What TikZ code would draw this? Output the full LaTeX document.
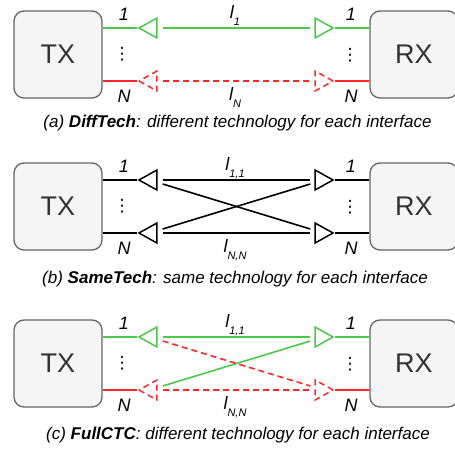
\documentclass[tikz,border=0pt]{standalone}
\usepackage{fontspec}
\setmainfont{Liberation Sans}
\newfontfamily\dotsfont{DejaVu Sans}
\usetikzlibrary{calc, positioning, shapes.geometric}
\definecolor{boxgray}{HTML}{F5F5F5}
\definecolor{edgegray}{HTML}{666666}
\definecolor{textgray}{HTML}{333333}
\definecolor{techgreen}{RGB}{76,200,76}
\definecolor{techred}{RGB}{255,40,40}
\newcommand{\lsub}[1]{\raisebox{-7pt}{\fontsize{11}{11}\selectfont #1}}

\begin{document}
\begin{tikzpicture}[x=1pt, y=-1pt,
    device/.style={draw=edgegray, fill=boxgray, line width=1.3pt, rounded corners=10pt,
        minimum width=88pt, minimum height=87pt, text=textgray, font=\fontsize{27}{27}\selectfont},
    ltri/.style={draw, fill=white, line width=1.5pt, isosceles triangle, isosceles triangle stretches,
        shape border rotate=180, minimum width=20pt, minimum height=18pt, inner sep=0pt, anchor=apex},
    rtri/.style={ltri, shape border rotate=0},
    port/.style={font=\fontsize{18}{18}\selectfont\itshape, anchor=base, inner sep=0pt},
    vdots/.style={font=\dotsfont\fontsize{17}{17}\selectfont, inner sep=0pt},
    wire/.style={line width=1.6pt},
    redash/.style={dash pattern=on 6pt off 4pt},
    caption/.style={font=\fontsize{17}{19}\selectfont\itshape, inner sep=0pt}]
    \useasboundingbox (0,0) rectangle (455,456);

    % (a) DiffTech
    \node[device] (txa) at (58,54.5) {TX};
    \node[device] (rxa) at (414,54.5) {RX};
    \node[ltri, draw=techgreen] (la1) at (137,28) {};
    \node[ltri, draw=techred, redash] (laN) at (137,81) {};
    \node[rtri, draw=techgreen] (ra1) at (335,28) {};
    \node[rtri, draw=techred, redash] (raN) at (335,81) {};
    \draw[wire, techgreen] (txa.east |- la1.apex) -- (la1.apex);
    \draw[wire, techgreen] (ra1.apex) -- (rxa.west |- ra1.apex);
    \draw[wire, techgreen, shorten <=5pt, shorten >=4pt] (la1.lower side) -- (ra1.lower side);
    \draw[wire, techred] (txa.east |- laN.apex) -- (laN.apex);
    \draw[wire, techred] (raN.apex) -- (rxa.west |- raN.apex);
    \draw[wire, techred, redash, shorten <=5pt, shorten >=4pt] (laN.lower side) -- (raN.lower side);
    \node[port] (pa1) at (124,20) {1};
    \node[port] (paN) at (124,102.7) {N};
    \node[port] (qa1) at (351,20) {1};
    \node[port] (qaN) at (351,102.7) {N};
    \node[vdots] (da) at (122,54.5) {⋮};
    \node[vdots] (ea) at (350,55) {⋮};
    \node[port] (na1) at (235,18) {l\lsub{1}};
    \node[port] (naN) at (235,100) {l\lsub{N}};
    \node[caption] (capa) at (237.5,123.5) {(a) \textbf{DiffTech}: different technology for each interface};

    % (b) SameTech
    \node[device] (txb) at (58,206.5) {TX};
    \node[device] (rxb) at (414,206.5) {RX};
    \node[ltri] (lb1) at (137,180) {};
    \node[ltri] (lbN) at (137,233) {};
    \node[rtri] (rb1) at (335,180) {};
    \node[rtri] (rbN) at (335,233) {};
    \draw[wire] (txb.east |- lb1.apex) -- (lb1.apex);
    \draw[wire] (txb.east |- lbN.apex) -- (lbN.apex);
    \draw[wire] (rb1.apex) -- (rxb.west |- rb1.apex);
    \draw[wire] (rbN.apex) -- (rxb.west |- rbN.apex);
    \draw[wire, shorten <=5pt, shorten >=4pt] (lb1.lower side) -- (rb1.lower side);
    \draw[wire, shorten <=5pt, shorten >=4pt] (lbN.lower side) -- (rbN.lower side);
    \draw[wire] ($(lb1.lower side)+(5,4)$) -- ($(rbN.lower side)+(-4,-4)$);
    \draw[wire] ($(lbN.lower side)+(5,-4)$) -- ($(rb1.lower side)+(-4,4)$);
    \node[port] (pb1) at (124,172) {1};
    \node[port] (pbN) at (124,254.7) {N};
    \node[port] (qb1) at (351,172) {1};
    \node[port] (qbN) at (351,254.7) {N};
    \node[vdots] (db) at (122,206.5) {⋮};
    \node[vdots] (eb) at (350,207) {⋮};
    \node[port] (nb1) at (235,170) {l\lsub{1,1}};
    \node[port] (nbN) at (235,252) {l\lsub{N,N}};
    \node[caption] (capb) at (235,279) {(b) \textbf{SameTech}: same technology for each interface};

    % (c) FullCTC
    \node[device] (txc) at (58,363.5) {TX};
    \node[device] (rxc) at (414,363.5) {RX};
    \node[ltri, draw=techgreen] (lc1) at (137,337) {};
    \node[ltri, draw=techred, redash] (lcN) at (137,390) {};
    \node[rtri, draw=techgreen] (rc1) at (335,337) {};
    \node[rtri, draw=techred, redash] (rcN) at (335,390) {};
    \draw[wire, techgreen] (txc.east |- lc1.apex) -- (lc1.apex);
    \draw[wire, techgreen] (rc1.apex) -- (rxc.west |- rc1.apex);
    \draw[wire, techgreen, shorten <=5pt, shorten >=4pt] (lc1.lower side) -- (rc1.lower side);
    \draw[wire, techgreen] ($(lcN.lower side)+(5,-4)$) -- ($(rc1.lower side)+(-4,4)$);
    \draw[wire, techred] (txc.east |- lcN.apex) -- (lcN.apex);
    \draw[wire, techred] (rcN.apex) -- (rxc.west |- rcN.apex);
    \draw[wire, techred, redash, shorten <=5pt, shorten >=4pt] (lcN.lower side) -- (rcN.lower side);
    \draw[wire, techred, redash] ($(lc1.lower side)+(5,4)$) -- ($(rcN.lower side)+(-4,-4)$);
    \node[port] (pc1) at (124,329) {1};
    \node[port] (pcN) at (124,411.7) {N};
    \node[port] (qc1) at (351,329) {1};
    \node[port] (qcN) at (351,411.7) {N};
    \node[vdots] (dc) at (122,363.5) {⋮};
    \node[vdots] (ec) at (350,364) {⋮};
    \node[port] (nc1) at (235,327) {l\lsub{1,1}};
    \node[port] (ncN) at (235,409) {l\lsub{N,N}};
    \node[caption] (capc) at (238,435.5) {(c) \textbf{FullCTC}: different technology for each interface};
\end{tikzpicture}
\end{document}
